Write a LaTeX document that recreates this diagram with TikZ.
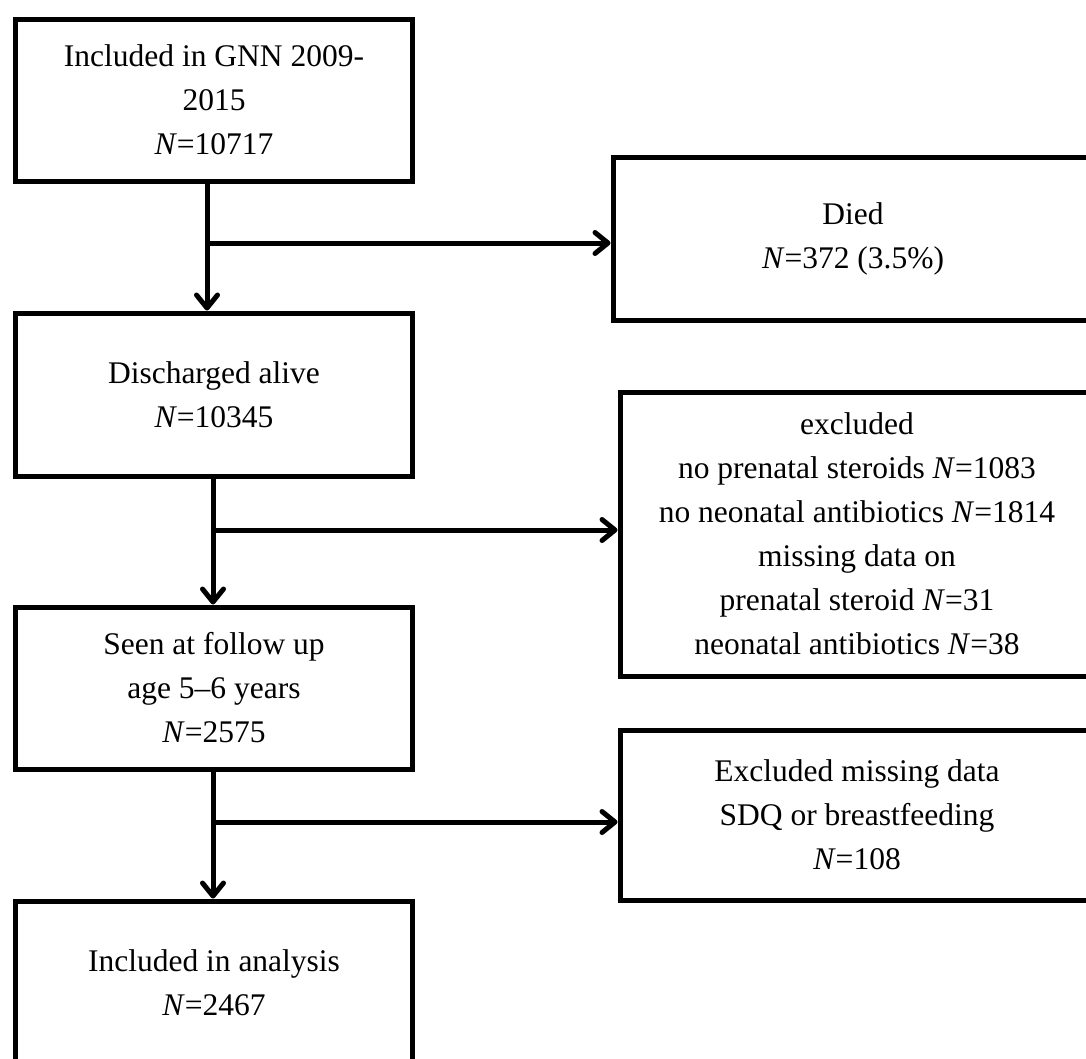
\documentclass[tikz,border=0pt]{standalone}
\usepackage{fontspec}
\setmainfont{Liberation Serif}
\usetikzlibrary{arrows.meta}

\begin{document}
\begin{tikzpicture}[x=1pt,y=-1pt,
  flow/.style={draw,line width=5pt,minimum width=397pt,minimum height=162pt,inner sep=0pt,align=center,font=\fontsize{31.5}{44}\selectfont},
  link/.style={line width=5pt,-{Straight Barb[length=13pt,width=21pt,round]}}]
\useasboundingbox (0,0) rectangle (1086,1058);
\clip (0,0) rectangle (1086,1058);

\node[flow](1) at (214,100){Included in GNN 2009-\\2015\\\textit{N}=10717};
\node[flow,minimum width=480pt,minimum height=163pt](2) at (853,239){Died\\\textit{N}=372 (3.5\%)};
\node[flow,minimum height=163pt](3) at (214,394.5){Discharged alive\\\textit{N}=10345};
\node[flow,minimum width=474pt,minimum height=284pt](4) at (857,534){excluded\\no prenatal steroids \textit{N}=1083\\no neonatal antibiotics \textit{N}=1814\\missing data on\\prenatal steroid \textit{N}=31\\neonatal antibiotics \textit{N}=38};
\node[flow](5) at (214,688){Seen at follow up\\age 5--6 years\\\textit{N}=2575};
\node[flow,minimum width=474pt,minimum height=170pt](6) at (857,815){Excluded missing data\\SDQ or breastfeeding\\\textit{N}=108};
\node[flow,minimum height=164pt](7) at (214,983){Included in analysis\\\textit{N}=2467};

\coordinate (a) at (207,243);
\coordinate (b) at (213,530);
\coordinate (c) at (213,822);

\draw[link] ([xshift=-7pt]1.south) -- ([xshift=-7pt]3.north);
\draw[link] (a) -- (a -| 2.west);
\draw[link] ([xshift=-1pt]3.south) -- ([xshift=-1pt]5.north);
\draw[link] (b) -- (b -| 4.west);
\draw[link] ([xshift=-1pt]5.south) -- ([xshift=-1pt]7.north);
\draw[link] (c) -- (c -| 6.west);
\end{tikzpicture}
\end{document}
